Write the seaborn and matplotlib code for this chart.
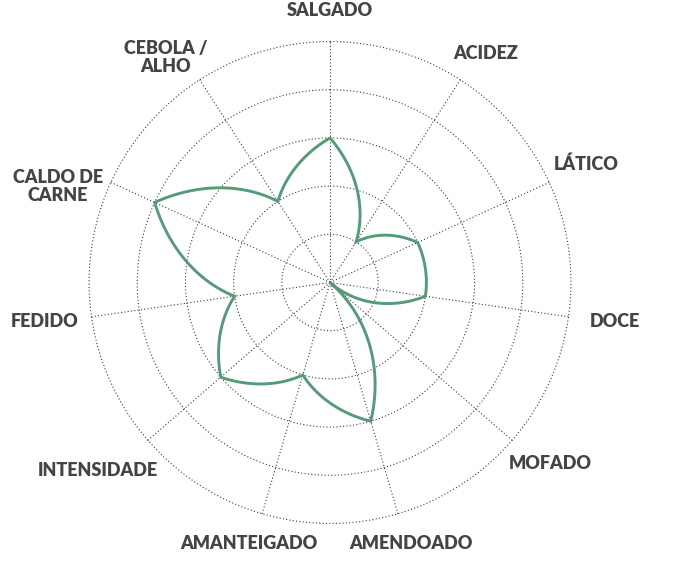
#%% Imports modules

import numpy as np

import matplotlib.pyplot as plt
from matplotlib.path import Path
from matplotlib.patches import PathPatch

import seaborn as sns

#%% Data

categories = ["SALGADO", "ACIDEZ", "LÁTICO", "DOCE", "MOFADO", "AMENDOADO",
              "AMANTEIGADO", "INTENSIDADE", "FEDIDO", "CALDO DE\nCARNE",
              "CEBOLA /\nALHO"]

scores = [3, 1, 2, 2, 0, 3, 2, 3, 2, 4, 2]

ring_values = [1, 2, 3, 4, 5]

#%% Theme and fonts

sns.set_theme(style="white")
plt.rcParams['font.family'] = ['Lato', 'DejaVu Sans']

line_green = "#569b77"
grid_grey = "#3c3c3c"
label_grey = "#444444"

#%% Builds the radar axes

n = len(categories)
angles = np.linspace(0, 2 * np.pi, n, endpoint=False)

fig = plt.figure(figsize=(6.98, 5.88), dpi=100)
# a touch of headroom past the last ring so it is not clipped
ax = fig.add_axes([0.1255, 0.1073, 0.6946, 0.8245], projection="polar")
ax.set_theta_zero_location("N")
ax.set_theta_direction(-1)
ax.set_ylim(0, ring_values[-1] * 1.006)

ax.set_rgrids(ring_values, labels=[""] * len(ring_values))
ax.set_thetagrids(np.degrees(angles), labels=[""] * n)
ax.grid(True, color=grid_grey, linestyle=(0, (1, 2)), linewidth=0.8)
ax.spines["polar"].set_visible(False)
ax.set_facecolor("white")

#%% Draws the score line (straight in theta/r, so it curves on screen)

closed_angles = np.append(angles, 2 * np.pi)
closed_scores = scores + scores[:1]
score_path = Path(np.column_stack([closed_angles, closed_scores]),
                  _interpolation_steps=80)
ax.add_patch(PathPatch(score_path, fill=False, edgecolor=line_green,
                       linewidth=2.1, joinstyle="miter", zorder=3))

#%% Category labels on an ellipse around the chart (axes fraction units)

rx, ry = 0.5975, 0.5643
nudge_px = {"LÁTICO": (-6, 5), "INTENSIDADE": (-15, -10),
            "CALDO DE\nCARNE": (-10, -17), "CEBOLA /\nALHO": (-9, -4),
            "MOFADO": (3, -3)}
ax_px = 484.8

for ang, lab in zip(angles, categories):
    dx, dy = nudge_px.get(lab, (0, 0))
    x = 0.5 + (rx * 482 / ax_px) * np.sin(ang) + dx / ax_px
    y = 0.5 + (ry * 482 / ax_px) * np.cos(ang) + dy / ax_px
    ax.text(x, y, lab, transform=ax.transAxes, ha="center", va="center",
            fontsize=13, fontweight="heavy", color=label_grey, linespacing=1.05)

fig.savefig("out.png", dpi=100)
